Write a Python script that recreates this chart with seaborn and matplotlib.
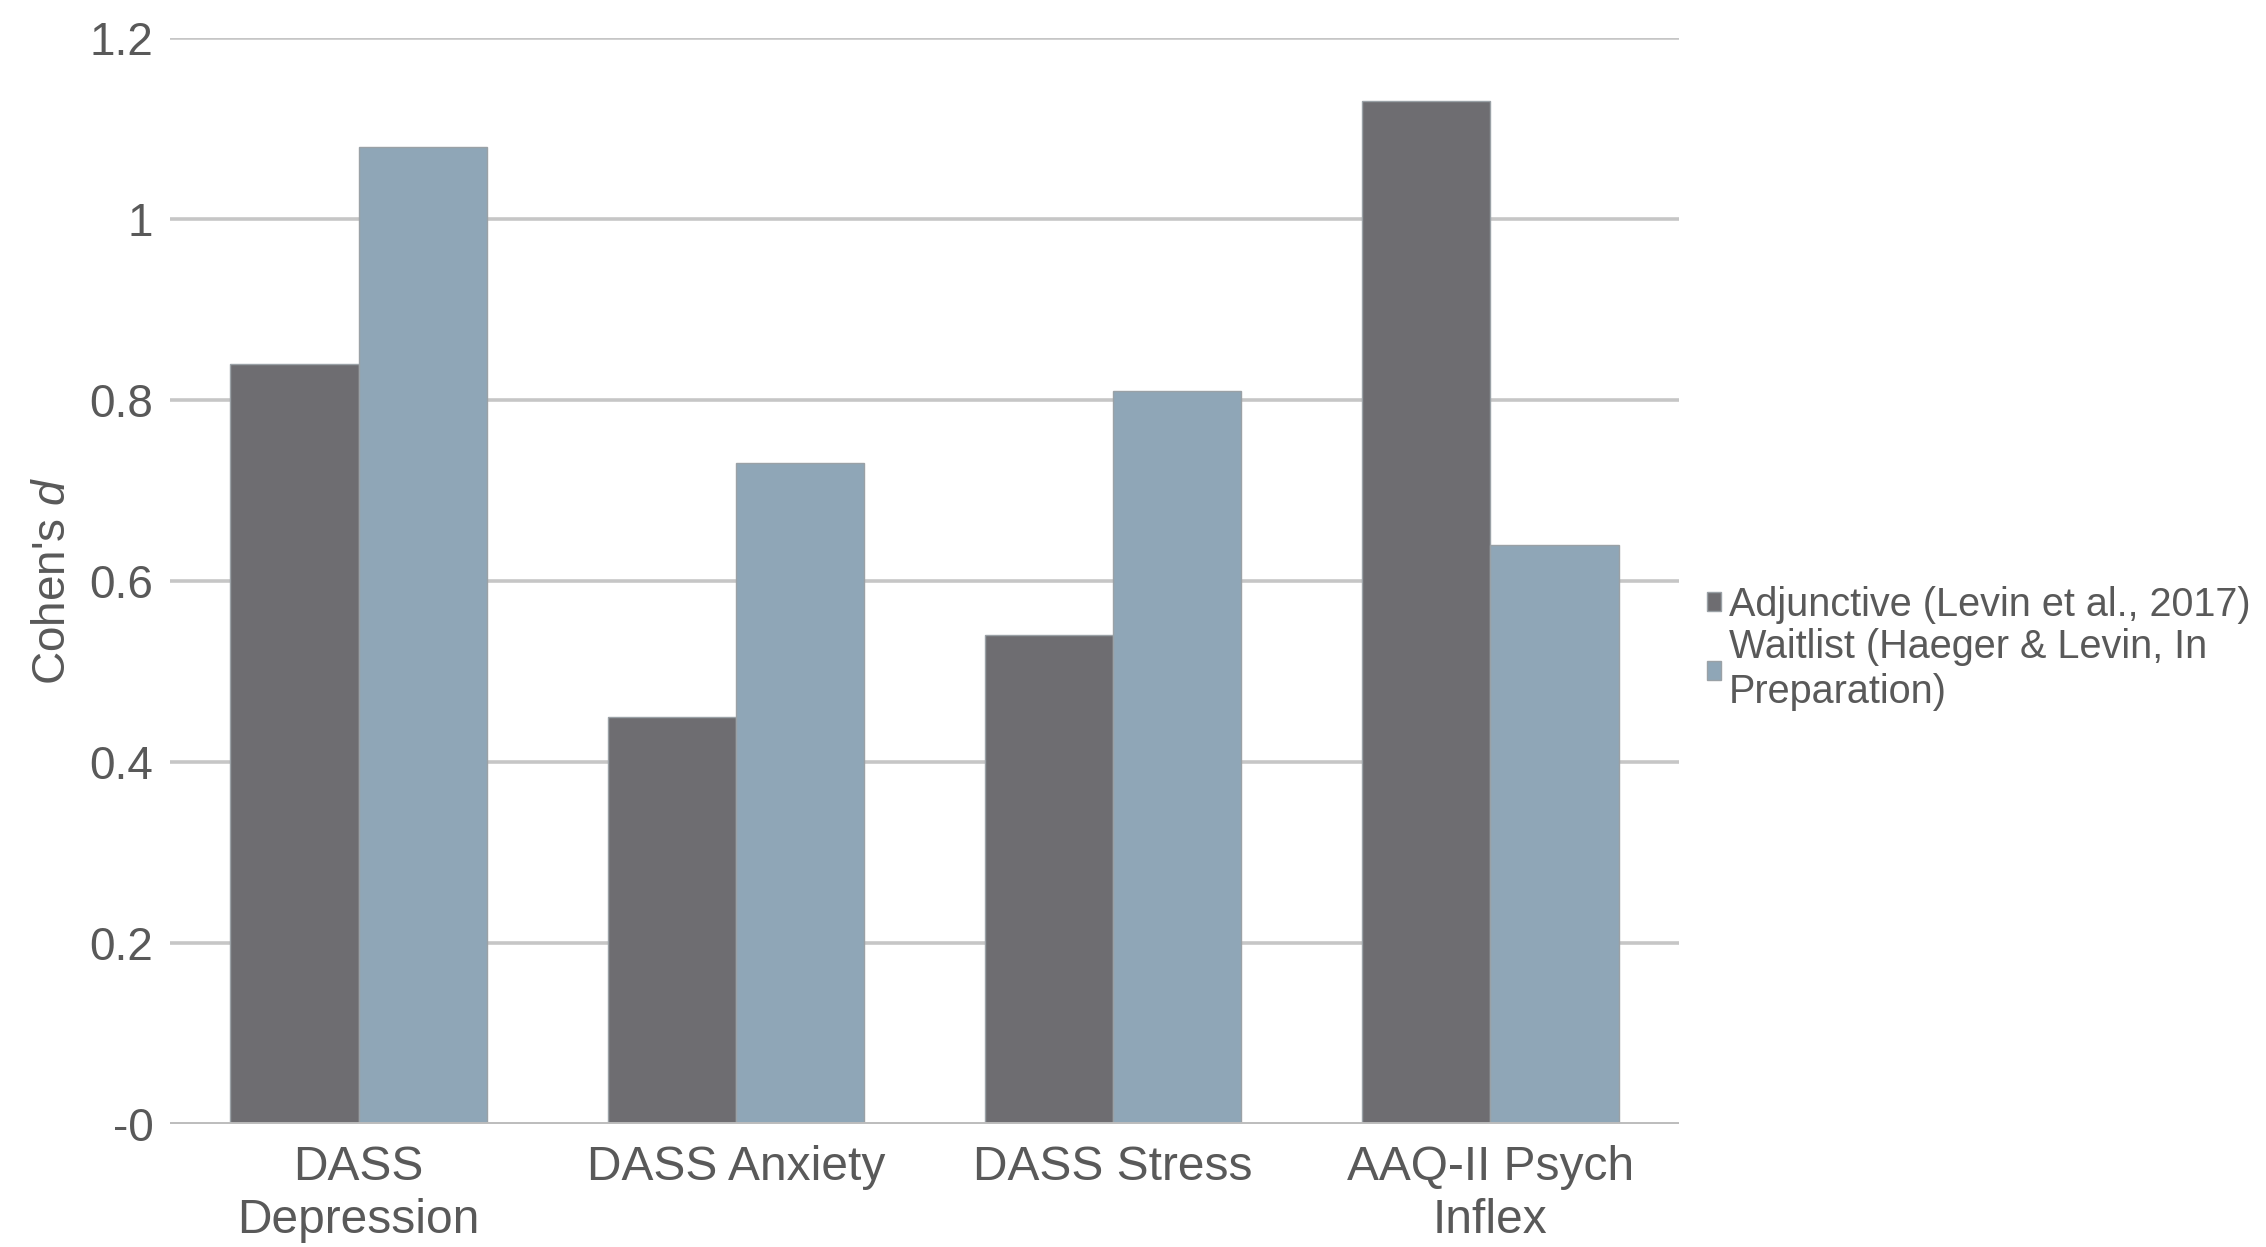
import matplotlib
matplotlib.use("Agg")
import matplotlib.pyplot as plt
import pandas as pd
import seaborn as sns

# Effect sizes (Cohen's d) by outcome and study
measures = ["DASS\nDepression", "DASS Anxiety", "DASS Stress", "AAQ-II Psych\nInflex"]
groups = ["Adjunctive (Levin et al., 2017)", "Waitlist (Haeger & Levin, In\nPreparation)"]
adjunctive_d = [0.84, 0.45, 0.54, 1.13]
waitlist_d = [1.08, 0.73, 0.81, 0.64]
y_ticks = [0, 0.2, 0.4, 0.6, 0.8, 1.0, 1.2]
y_tick_labels = ["-0", "0.2", "0.4", "0.6", "0.8", "1", "1.2"]

df = pd.DataFrame({
    "measure": measures * 2,
    "d": adjunctive_d + waitlist_d,
    "group": [groups[0]] * len(measures) + [groups[1]] * len(measures),
})

sns.set_theme(style="white")
plt.rcParams["font.family"] = ["Liberation Sans", "DejaVu Sans"]
plt.rcParams["mathtext.fontset"] = "custom"
plt.rcParams["mathtext.rm"] = "Liberation Sans"
plt.rcParams["mathtext.it"] = "Liberation Sans:italic"

text_color = "#595959"
grid_color = "#c6c6c6"
palette = ["#6e6d71", "#8fa6b7"]

fig = plt.figure(figsize=(22.66, 12.47), dpi=100)
ax = fig.add_axes([0.075, 0.0986, 0.666, 0.8709])

sns.barplot(
    data=df, x="measure", y="d", hue="group", order=measures, hue_order=groups,
    palette=palette, width=0.68, gap=0, edgecolor="#9aa1a6", linewidth=1.0,
    saturation=1, ax=ax, zorder=3,
)

ax.set_ylim(0, 1.2)
ax.set_xlim(-0.5, 3.5)
ax.set_yticks(y_ticks)
ax.set_yticklabels(y_tick_labels)
ax.yaxis.grid(True, color=grid_color, linewidth=2.6, zorder=0)
ax.set_axisbelow(True)
for s in ax.spines.values():
    s.set_visible(False)
ax.axhline(0, color="#bdbdbd", linewidth=2.8, zorder=4)

ax.tick_params(axis="y", length=0, pad=12, labelsize=33, labelcolor=text_color)
ax.tick_params(axis="x", length=0, pad=15, labelsize=34.5, labelcolor=text_color)
for lab in ax.get_xticklabels():
    lab.set_linespacing(1.22)

ax.set_xlabel("")
ax.set_ylabel("Cohen's $\\mathit{d}$", fontsize=33, color=text_color)
ax.yaxis.set_label_coords(-0.063, 0.5)

sns.move_legend(
    ax, "center left", bbox_to_anchor=(1.0186, 0.438), frameon=False, title=None,
    fontsize=28.5, handlelength=0.36, handleheight=0.36, handletextpad=0.18,
    labelspacing=0.12, borderpad=0, borderaxespad=0,
)
for t in ax.get_legend().get_texts():
    t.set_color(text_color)
    t.set_linespacing(1.22)

fig.savefig("out.png", dpi=100)
